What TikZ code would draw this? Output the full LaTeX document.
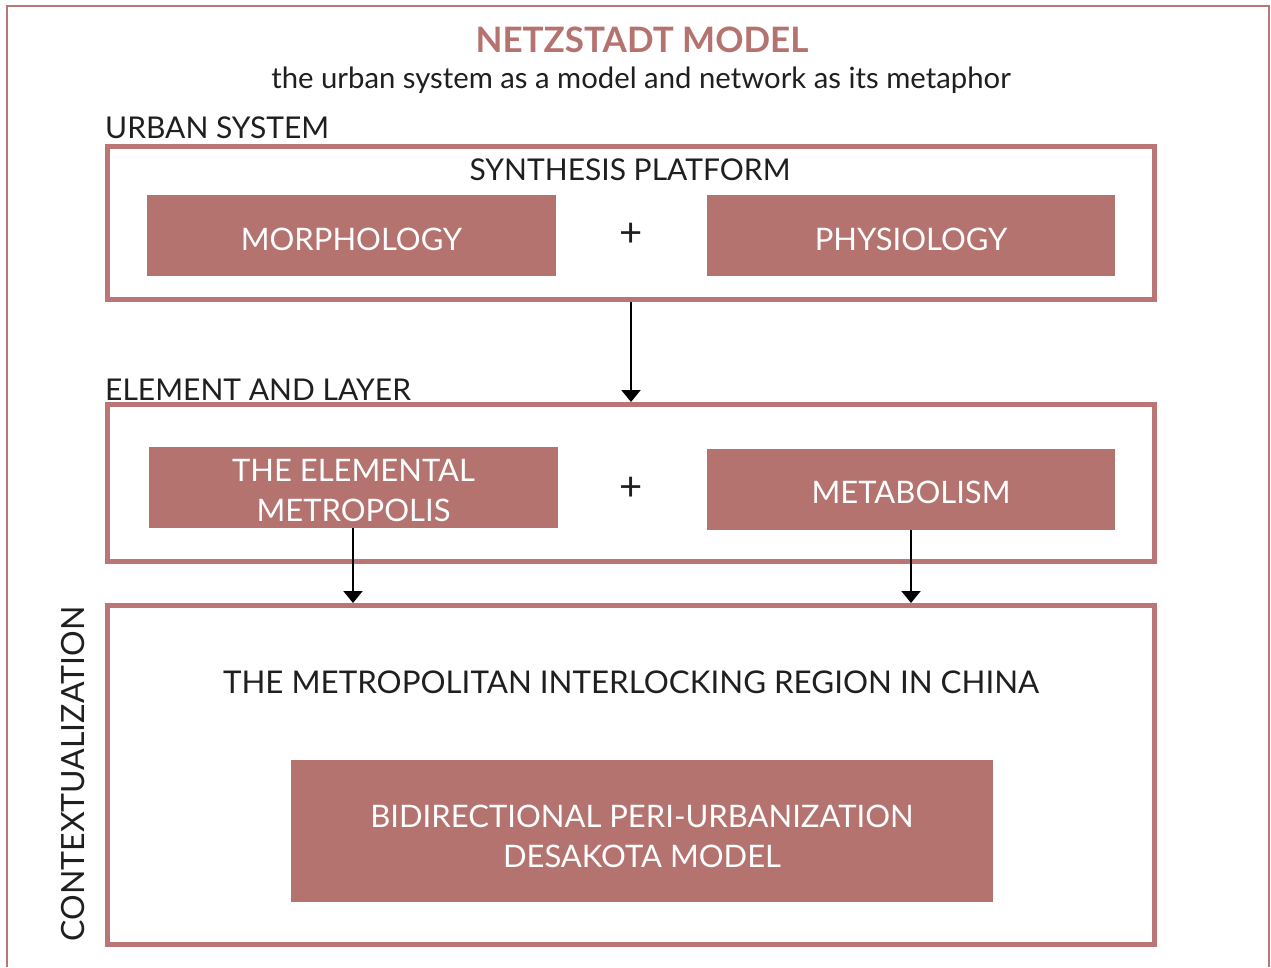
\documentclass[tikz,border=0pt]{standalone}
\usepackage{fontspec}
\setmainfont{Lato}
\usetikzlibrary{arrows.meta}
\definecolor{rose}{HTML}{B5736F}
\definecolor{roseline}{HTML}{B97674}
\begin{document}
\begin{tikzpicture}[x=1pt,y=-1pt,
  frame/.style={draw=roseline,line width=5pt},
  block/.style={fill=rose},
  lbl/.style={anchor=base,inner sep=0pt,text=black!88,font=\fontsize{30}{36}\selectfont},
  wlbl/.style={lbl,text=white,align=center,font=\fontsize{31}{36}\selectfont},
  plus/.style={lbl,font=\fontsize{40}{40}\selectfont},
  flow/.style={line width=2pt,-{Triangle[width=19pt,length=12pt]}}]
\useasboundingbox (0,0) rectangle (1271,967);
% outer open frame
\draw[roseline,line width=2.5pt] (7,967) -- (7,6) -- (1269,6) -- (1269,967);
% heading
\node[lbl,font=\fontsize{35}{40}\selectfont\bfseries,text=rose] (title) at (642,52) {NETZSTADT MODEL};
\node[lbl,font=\fontsize{29.3}{36}\selectfont] (sub) at (641,88) {the urban system as a model and network as its metaphor};
% urban system
\node[lbl,anchor=base west] (uslbl) at (105,138) {URBAN SYSTEM};
\draw[frame] (107.5,146.5) rectangle (1154.5,299.5);
\coordinate (b1bot) at (631,302);
\node[lbl] (synth) at (630,180) {SYNTHESIS PLATFORM};
\fill[block] (147,195) rectangle (556,276);
\node[wlbl] (morph) at (351.5,250) {MORPHOLOGY};
\fill[block] (707,195) rectangle (1115,276);
\node[wlbl] (phys) at (911,250) {PHYSIOLOGY};
\node[plus] (plus1) at (631,246) {+};
% element and layer
\node[lbl,anchor=base west] (ellbl) at (105,400) {ELEMENT AND LAYER};
\draw[frame] (107.5,404.5) rectangle (1154.5,561.5);
\coordinate (b2top) at (631,402);
\draw[flow] (b1bot) -- (b2top);
\fill[block] (149,447) rectangle (558,528);
\node[wlbl] (elem1) at (353.5,481) {THE ELEMENTAL};
\node[wlbl] (elem2) at (353.5,521) {METROPOLIS};
\fill[block] (707,449) rectangle (1115,530);
\node[wlbl] (metab) at (911,503) {METABOLISM};
\node[plus] (plus2) at (631,500) {+};
% contextualization
\draw[frame] (107.5,605.5) rectangle (1154.5,944.5);
\coordinate (e1bot) at (353,528);
\coordinate (e1tgt) at (353,603);
\coordinate (m1bot) at (911,530);
\coordinate (m1tgt) at (911,603);
\draw[flow] (e1bot) -- (e1tgt);
\draw[flow] (m1bot) -- (m1tgt);
\node[lbl,font=\fontsize{31.3}{36}\selectfont] (region) at (631,693) {THE METROPOLITAN INTERLOCKING REGION IN CHINA};
\fill[block] (291,760) rectangle (993,902);
\node[wlbl] (bidir) at (642,827) {BIDIRECTIONAL PERI-URBANIZATION};
\node[wlbl] (desak) at (642,867) {DESAKOTA MODEL};
\node[lbl,rotate=90,font=\fontsize{32}{36}\selectfont] (ctx) at (84,774) {CONTEXTUALIZATION};
\end{tikzpicture}
\end{document}
